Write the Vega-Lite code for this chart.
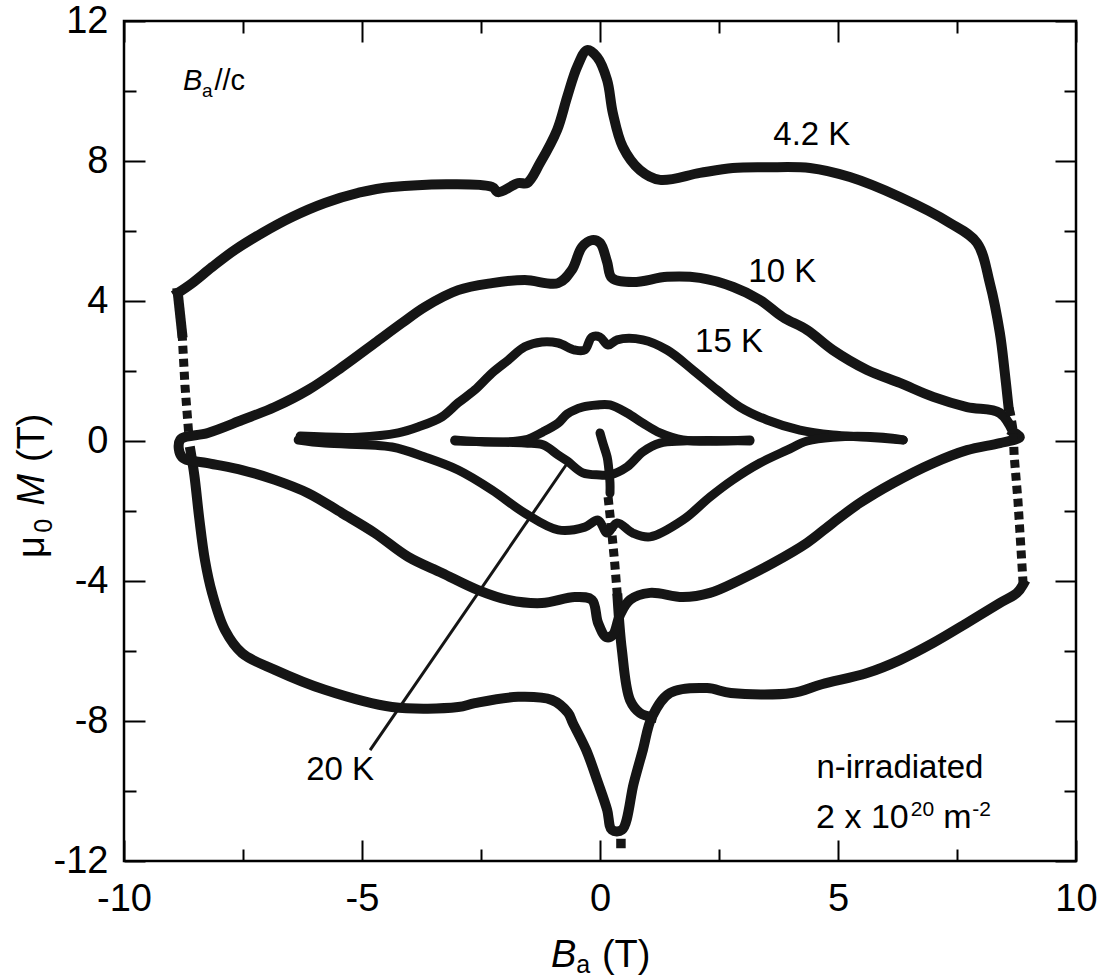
{
  "$schema": "https://vega.github.io/schema/vega-lite/v6.json",
  "width": 952,
  "height": 840,
  "autosize": {"type": "none"},
  "padding": {"left": 124, "top": 21, "right": 24, "bottom": 118},
  "background": "white",
  "config": {
    "view": {"stroke": "black", "strokeWidth": 2.5},
    "axis": {"grid": false, "domain": false, "tickColor": "black", "tickWidth": 2, "labelColor": "black", "labelFont": "Liberation Sans", "labelFontSize": 38},
    "text": {"font": "Liberation Sans", "color": "black"}
  },
  "datasets": {
    "curves": [
      {"seg":"k4a","i":1,"B":8.58,"M":1.0},{"seg":"k4a","i":2,"B":8.5,"M":2.0},{"seg":"k4a","i":3,"B":8.4,"M":3.09},{"seg":"k4a","i":4,"B":8.19,"M":4.51},{"seg":"k4a","i":5,"B":7.92,"M":5.66},{"seg":"k4a","i":6,"B":7.35,"M":6.23},{"seg":"k4a","i":7,"B":6.3,"M":6.97},{"seg":"k4a","i":8,"B":5.25,"M":7.54},{"seg":"k4a","i":9,"B":4.41,"M":7.8},{"seg":"k4a","i":10,"B":3.5,"M":7.82},{"seg":"k4a","i":11,"B":2.79,"M":7.8},{"seg":"k4a","i":12,"B":2.1,"M":7.66},{"seg":"k4a","i":13,"B":1.26,"M":7.46},{"seg":"k4a","i":14,"B":0.84,"M":7.74},{"seg":"k4a","i":15,"B":0.48,"M":8.4},{"seg":"k4a","i":16,"B":0.27,"M":9.37},{"seg":"k4a","i":17,"B":0.15,"M":10.31},{"seg":"k4a","i":18,"B":-0.06,"M":10.97},{"seg":"k4a","i":19,"B":-0.27,"M":11.17},{"seg":"k4a","i":20,"B":-0.48,"M":10.69},{"seg":"k4a","i":21,"B":-0.69,"M":9.83},{"seg":"k4a","i":22,"B":-0.9,"M":8.89},{"seg":"k4a","i":23,"B":-1.26,"M":7.94},{"seg":"k4a","i":24,"B":-1.53,"M":7.37},{"seg":"k4a","i":25,"B":-1.72,"M":7.37},{"seg":"k4a","i":26,"B":-2.14,"M":7.11},{"seg":"k4a","i":27,"B":-2.27,"M":7.26},{"seg":"k4a","i":28,"B":-4.37,"M":7.26},{"seg":"k4a","i":29,"B":-5.08,"M":7.09},{"seg":"k4a","i":30,"B":-5.78,"M":6.8},{"seg":"k4a","i":31,"B":-6.47,"M":6.4},{"seg":"k4a","i":32,"B":-7.1,"M":5.94},{"seg":"k4a","i":33,"B":-7.67,"M":5.46},{"seg":"k4a","i":34,"B":-8.15,"M":4.97},{"seg":"k4a","i":35,"B":-8.57,"M":4.51},{"seg":"k4a","i":36,"B":-8.87,"M":4.23},
      {"seg":"k4c","i":1,"B":-8.87,"M":4.23},{"seg":"k4c","i":2,"B":-8.78,"M":3.09},
      {"seg":"k4L","i":1,"B":-8.78,"M":3.09},{"seg":"k4L","i":2,"B":-8.72,"M":1.6},{"seg":"k4L","i":3,"B":-8.64,"M":0.2},
      {"seg":"k4b","i":1,"B":-8.6,"M":-0.3},{"seg":"k4b","i":2,"B":-8.52,"M":-1.0},{"seg":"k4b","i":3,"B":-8.42,"M":-2.2},{"seg":"k4b","i":4,"B":-8.3,"M":-3.4},{"seg":"k4b","i":5,"B":-8.15,"M":-4.34},{"seg":"k4b","i":6,"B":-7.88,"M":-5.4},{"seg":"k4b","i":7,"B":-7.52,"M":-6.06},{"seg":"k4b","i":8,"B":-6.83,"M":-6.54},{"seg":"k4b","i":9,"B":-5.78,"M":-7.11},{"seg":"k4b","i":10,"B":-4.37,"M":-7.6},{"seg":"k4b","i":11,"B":-2.98,"M":-7.6},{"seg":"k4b","i":12,"B":-2.63,"M":-7.49},{"seg":"k4b","i":13,"B":-1.72,"M":-7.31},{"seg":"k4b","i":14,"B":-1.01,"M":-7.4},{"seg":"k4b","i":15,"B":-0.67,"M":-7.77},{"seg":"k4b","i":16,"B":-0.57,"M":-8.06},{"seg":"k4b","i":17,"B":-0.29,"M":-8.83},{"seg":"k4b","i":18,"B":-0.04,"M":-9.77},{"seg":"k4b","i":19,"B":0.15,"M":-10.54},{"seg":"k4b","i":20,"B":0.25,"M":-11.11},{"seg":"k4b","i":21,"B":0.46,"M":-11.11},{"seg":"k4b","i":22,"B":0.71,"M":-9.77},{"seg":"k4b","i":23,"B":0.9,"M":-8.83},{"seg":"k4b","i":24,"B":1.09,"M":-7.89},{"seg":"k4b","i":25,"B":1.47,"M":-7.2},{"seg":"k4b","i":26,"B":2.25,"M":-7.06},{"seg":"k4b","i":27,"B":2.75,"M":-7.2},{"seg":"k4b","i":28,"B":4.03,"M":-7.2},{"seg":"k4b","i":29,"B":4.66,"M":-6.95},{"seg":"k4b","i":30,"B":5.61,"M":-6.63},{"seg":"k4b","i":31,"B":6.3,"M":-6.26},{"seg":"k4b","i":32,"B":7.0,"M":-5.77},{"seg":"k4b","i":33,"B":7.71,"M":-5.2},{"seg":"k4b","i":34,"B":8.4,"M":-4.63},{"seg":"k4b","i":35,"B":8.76,"M":-4.34},{"seg":"k4b","i":36,"B":8.89,"M":-4.1},
      {"seg":"k4R","i":1,"B":8.89,"M":-4.1},{"seg":"k4R","i":2,"B":8.84,"M":-3.0},{"seg":"k4R","i":3,"B":8.78,"M":-1.7},{"seg":"k4R","i":4,"B":8.7,"M":-0.4},{"seg":"k4R","i":5,"B":8.68,"M":0.3},{"seg":"k4R","i":6,"B":8.62,"M":0.8},{"seg":"k4R","i":7,"B":8.58,"M":1.0},
      {"seg":"k4v","i":1,"B":0.17,"M":-1.6},{"seg":"k4v","i":2,"B":0.24,"M":-2.5},{"seg":"k4v","i":3,"B":0.31,"M":-3.5},{"seg":"k4v","i":4,"B":0.37,"M":-4.5},
      {"seg":"k4w","i":1,"B":0.37,"M":-4.5},{"seg":"k4w","i":2,"B":0.46,"M":-5.97},{"seg":"k4w","i":3,"B":0.63,"M":-7.4},{"seg":"k4w","i":4,"B":0.84,"M":-7.77},{"seg":"k4w","i":5,"B":1.09,"M":-7.89},
      {"seg":"k10","i":1,"B":8.68,"M":0.26},{"seg":"k10","i":2,"B":8.4,"M":0.8},{"seg":"k10","i":3,"B":7.71,"M":0.97},{"seg":"k10","i":4,"B":7.0,"M":1.26},{"seg":"k10","i":5,"B":6.3,"M":1.66},{"seg":"k10","i":6,"B":5.61,"M":2.03},{"seg":"k10","i":7,"B":4.89,"M":2.6},{"seg":"k10","i":8,"B":4.35,"M":3.17},{"seg":"k10","i":9,"B":3.84,"M":3.54},{"seg":"k10","i":10,"B":3.36,"M":4.03},{"seg":"k10","i":11,"B":2.8,"M":4.4},{"seg":"k10","i":12,"B":2.1,"M":4.66},{"seg":"k10","i":13,"B":1.41,"M":4.69},{"seg":"k10","i":14,"B":0.69,"M":4.54},{"seg":"k10","i":15,"B":0.25,"M":4.66},{"seg":"k10","i":16,"B":0.15,"M":5.11},{"seg":"k10","i":17,"B":0.0,"M":5.66},{"seg":"k10","i":18,"B":-0.17,"M":5.74},{"seg":"k10","i":19,"B":-0.38,"M":5.54},{"seg":"k10","i":20,"B":-0.59,"M":4.89},{"seg":"k10","i":21,"B":-0.88,"M":4.51},{"seg":"k10","i":22,"B":-1.58,"M":4.6},{"seg":"k10","i":23,"B":-2.27,"M":4.51},{"seg":"k10","i":24,"B":-2.98,"M":4.31},{"seg":"k10","i":25,"B":-3.68,"M":3.83},{"seg":"k10","i":26,"B":-4.16,"M":3.37},{"seg":"k10","i":27,"B":-4.73,"M":2.8},{"seg":"k10","i":28,"B":-5.42,"M":2.11},{"seg":"k10","i":29,"B":-6.13,"M":1.46},{"seg":"k10","i":30,"B":-6.83,"M":0.97},{"seg":"k10","i":31,"B":-7.52,"M":0.6},{"seg":"k10","i":32,"B":-8.24,"M":0.23},{"seg":"k10","i":33,"B":-8.82,"M":0.03},{"seg":"k10","i":34,"B":-8.78,"M":-0.46},{"seg":"k10","i":35,"B":-8.24,"M":-0.63},{"seg":"k10","i":36,"B":-7.52,"M":-0.83},{"seg":"k10","i":37,"B":-6.83,"M":-1.11},{"seg":"k10","i":38,"B":-6.13,"M":-1.49},{"seg":"k10","i":39,"B":-5.42,"M":-2.06},{"seg":"k10","i":40,"B":-4.73,"M":-2.63},{"seg":"k10","i":41,"B":-4.03,"M":-3.31},{"seg":"k10","i":42,"B":-3.32,"M":-3.77},{"seg":"k10","i":43,"B":-2.56,"M":-4.26},{"seg":"k10","i":44,"B":-1.93,"M":-4.54},{"seg":"k10","i":45,"B":-1.22,"M":-4.63},{"seg":"k10","i":46,"B":-0.53,"M":-4.46},{"seg":"k10","i":47,"B":-0.17,"M":-4.54},{"seg":"k10","i":48,"B":-0.04,"M":-5.2},{"seg":"k10","i":49,"B":0.13,"M":-5.6},{"seg":"k10","i":50,"B":0.27,"M":-5.54},{"seg":"k10","i":51,"B":0.42,"M":-4.97},{"seg":"k10","i":52,"B":0.63,"M":-4.54},{"seg":"k10","i":53,"B":1.05,"M":-4.34},{"seg":"k10","i":54,"B":1.74,"M":-4.46},{"seg":"k10","i":55,"B":2.31,"M":-4.34},{"seg":"k10","i":56,"B":2.94,"M":-3.97},{"seg":"k10","i":57,"B":3.63,"M":-3.49},{"seg":"k10","i":58,"B":4.35,"M":-2.91},{"seg":"k10","i":59,"B":4.89,"M":-2.34},{"seg":"k10","i":60,"B":5.46,"M":-1.77},{"seg":"k10","i":61,"B":6.16,"M":-1.2},{"seg":"k10","i":62,"B":7.0,"M":-0.63},{"seg":"k10","i":63,"B":7.71,"M":-0.26},{"seg":"k10","i":64,"B":8.4,"M":-0.06},{"seg":"k10","i":65,"B":8.82,"M":0.11},{"seg":"k10","i":66,"B":8.68,"M":0.26},
      {"seg":"k15u","i":1,"B":-6.3,"M":0.14},{"seg":"k15u","i":2,"B":-5.08,"M":0.11},{"seg":"k15u","i":3,"B":-4.24,"M":0.23},{"seg":"k15u","i":4,"B":-3.82,"M":0.4},{"seg":"k15u","i":5,"B":-3.32,"M":0.69},{"seg":"k15u","i":6,"B":-2.98,"M":1.09},{"seg":"k15u","i":7,"B":-2.63,"M":1.46},{"seg":"k15u","i":8,"B":-2.27,"M":1.94},{"seg":"k15u","i":9,"B":-1.93,"M":2.31},{"seg":"k15u","i":10,"B":-1.58,"M":2.69},{"seg":"k15u","i":11,"B":-1.22,"M":2.83},{"seg":"k15u","i":12,"B":-0.88,"M":2.8},{"seg":"k15u","i":13,"B":-0.53,"M":2.6},{"seg":"k15u","i":14,"B":-0.32,"M":2.6},{"seg":"k15u","i":15,"B":-0.17,"M":2.97},{"seg":"k15u","i":16,"B":0.0,"M":2.97},{"seg":"k15u","i":17,"B":0.17,"M":2.74},{"seg":"k15u","i":18,"B":0.36,"M":2.89},{"seg":"k15u","i":19,"B":0.9,"M":2.89},{"seg":"k15u","i":20,"B":1.41,"M":2.6},{"seg":"k15u","i":21,"B":1.95,"M":2.03},{"seg":"k15u","i":22,"B":2.46,"M":1.46},{"seg":"k15u","i":23,"B":2.94,"M":0.97},{"seg":"k15u","i":24,"B":3.51,"M":0.6},{"seg":"k15u","i":25,"B":4.2,"M":0.31},{"seg":"k15u","i":26,"B":4.89,"M":0.17},{"seg":"k15u","i":27,"B":5.61,"M":0.11},{"seg":"k15u","i":28,"B":6.37,"M":0.03},
      {"seg":"k15l","i":1,"B":-6.34,"M":0.03},{"seg":"k15l","i":2,"B":-5.78,"M":-0.06},{"seg":"k15l","i":3,"B":-4.37,"M":-0.17},{"seg":"k15l","i":4,"B":-3.68,"M":-0.46},{"seg":"k15l","i":5,"B":-2.98,"M":-0.83},{"seg":"k15l","i":6,"B":-2.27,"M":-1.4},{"seg":"k15l","i":7,"B":-1.58,"M":-2.06},{"seg":"k15l","i":8,"B":-0.88,"M":-2.54},{"seg":"k15l","i":9,"B":-0.32,"M":-2.46},{"seg":"k15l","i":10,"B":-0.04,"M":-2.26},{"seg":"k15l","i":11,"B":0.15,"M":-2.63},{"seg":"k15l","i":12,"B":0.36,"M":-2.34},{"seg":"k15l","i":13,"B":0.69,"M":-2.63},{"seg":"k15l","i":14,"B":1.05,"M":-2.74},{"seg":"k15l","i":15,"B":1.74,"M":-2.26},{"seg":"k15l","i":16,"B":2.31,"M":-1.6},{"seg":"k15l","i":17,"B":2.79,"M":-1.11},{"seg":"k15l","i":18,"B":3.36,"M":-0.63},{"seg":"k15l","i":19,"B":3.93,"M":-0.26},{"seg":"k15l","i":20,"B":4.35,"M":0.0},{"seg":"k15l","i":21,"B":4.89,"M":0.11},{"seg":"k15l","i":22,"B":5.95,"M":0.11},{"seg":"k15l","i":23,"B":6.37,"M":0.03},
      {"seg":"k20u","i":1,"B":-3.05,"M":0.03},{"seg":"k20u","i":2,"B":-2.27,"M":-0.03},{"seg":"k20u","i":3,"B":-1.58,"M":0.03},{"seg":"k20u","i":4,"B":-1.2,"M":0.26},{"seg":"k20u","i":5,"B":-0.88,"M":0.51},{"seg":"k20u","i":6,"B":-0.69,"M":0.77},{"seg":"k20u","i":7,"B":-0.36,"M":0.97},{"seg":"k20u","i":8,"B":-0.06,"M":1.03},{"seg":"k20u","i":9,"B":0.21,"M":1.03},{"seg":"k20u","i":10,"B":0.57,"M":0.8},{"seg":"k20u","i":11,"B":0.9,"M":0.51},{"seg":"k20u","i":12,"B":1.26,"M":0.23},{"seg":"k20u","i":13,"B":1.74,"M":0.03},{"seg":"k20u","i":14,"B":3.15,"M":0.03},
      {"seg":"k20l","i":1,"B":-3.05,"M":0.0},{"seg":"k20l","i":2,"B":-1.58,"M":-0.06},{"seg":"k20l","i":3,"B":-1.2,"M":-0.11},{"seg":"k20l","i":4,"B":-0.88,"M":-0.4},{"seg":"k20l","i":5,"B":-0.69,"M":-0.57},{"seg":"k20l","i":6,"B":-0.36,"M":-0.91},{"seg":"k20l","i":7,"B":0.0,"M":-0.97},{"seg":"k20l","i":8,"B":0.21,"M":-0.97},{"seg":"k20l","i":9,"B":0.57,"M":-0.74},{"seg":"k20l","i":10,"B":0.9,"M":-0.31},{"seg":"k20l","i":11,"B":1.26,"M":-0.06},{"seg":"k20l","i":12,"B":1.74,"M":0.0},{"seg":"k20l","i":13,"B":3.15,"M":0.0},
      {"seg":"t20v","i":1,"B":0.0,"M":0.23},{"seg":"t20v","i":2,"B":0.06,"M":-0.06},{"seg":"t20v","i":3,"B":0.15,"M":-0.46},{"seg":"t20v","i":4,"B":0.18,"M":-0.74},{"seg":"t20v","i":5,"B":0.21,"M":-1.2},{"seg":"t20v","i":6,"B":0.21,"M":-1.49},
      {"seg":"k4pt","i":1,"B":0.44,"M":-11.5}
    ],
    "notes": [
      {"g":"c","t":"4.2 K","B":4.45,"M":8.46},
      {"g":"c","t":"10 K","B":3.83,"M":4.54},
      {"g":"c","t":"15 K","B":2.71,"M":2.54},
      {"g":"c","t":"20 K","B":-5.46,"M":-9.69},
      {"g":"c","t":"n-irradiated","B":6.3,"M":-9.63},
      {"g":"l","t":"2 x 10","B":4.54,"M":-11.06},
      {"g":"l","t":"m","B":7.21,"M":-11.06},
      {"g":"s","t":"20","B":6.53,"M":-10.72},
      {"g":"s","t":"-2","B":7.82,"M":-10.72},
      {"g":"bi","t":"B","B":-8.76,"M":10.03},
      {"g":"bs","t":"a","B":-8.36,"M":9.83},
      {"g":"bn","t":"//c","B":-8.1,"M":10.03},
      {"g":"xi","t":"B","B":-1.03,"M":-15.03},
      {"g":"xs","t":"a","B":-0.5,"M":-15.2},
      {"g":"xn","t":"(T)","B":0.04,"M":-15.03},
      {"g":"yn","t":"μ","B":-11.68,"M":-3.34},
      {"g":"ys","t":"0","B":-11.51,"M":-2.62},
      {"g":"yi","t":"M","B":-11.68,"M":-1.85},
      {"g":"yn","t":"(T)","B":-11.68,"M":-0.6}
    ],
    "leader": [{"B":-4.83,"M":-8.83,"B2":-0.67,"M2":-0.6}],
    "origin": [{"B":0,"M":0}]
  },
  "resolve": {"axis": {"x": "independent", "y": "independent"}},
  "layer": [
    {
      "data": {"name": "curves"},
      "transform": [{"filter": {"field": "seg", "oneOf": ["k4a", "k4b", "k10", "k4w"]}}],
      "mark": {"type": "line", "strokeWidth": 10, "color": "#151515", "strokeCap": "square", "interpolate": "catmull-rom"},
      "encoding": {
        "x": {"field": "B", "type": "quantitative", "scale": {"domain": [-10, 10], "nice": false, "zero": false},
              "axis": {"orient": "bottom", "values": [-10, -5, 0, 5, 10], "ticks": false, "tickSize": 0, "labelPadding": 19, "labelFlush": false, "labelOverlap": false, "labelExpr": "'' + datum.value", "title": null}},
        "y": {"field": "M", "type": "quantitative", "scale": {"domain": [-12, 12], "nice": false, "zero": false},
              "axis": {"orient": "left", "values": [-12, -8, -4, 0, 4, 8, 12], "ticks": false, "tickSize": 0, "labelPadding": 16, "labelFlush": false, "labelOverlap": false, "labelExpr": "'' + datum.value", "title": null}},
        "detail": {"field": "seg"},
        "order": {"field": "i", "type": "quantitative"}
      }
    },
    {
      "data": {"name": "curves"},
      "transform": [{"filter": {"field": "seg", "equal": "k4c"}}],
      "mark": {"type": "line", "strokeWidth": 10, "color": "#151515", "strokeCap": "square"},
      "encoding": {
        "x": {"field": "B", "type": "quantitative", "axis": null},
        "y": {"field": "M", "type": "quantitative", "axis": null},
        "order": {"field": "i", "type": "quantitative"}
      }
    },
    {
      "data": {"name": "curves"},
      "transform": [{"filter": {"field": "seg", "oneOf": ["k4L", "k4R", "k4v"]}}],
      "mark": {"type": "line", "strokeWidth": 9, "color": "#151515", "strokeDash": [8, 5]},
      "encoding": {
        "x": {"field": "B", "type": "quantitative", "axis": null},
        "y": {"field": "M", "type": "quantitative", "axis": null},
        "detail": {"field": "seg"},
        "order": {"field": "i", "type": "quantitative"}
      }
    },
    {
      "data": {"name": "curves"},
      "transform": [{"filter": {"field": "seg", "oneOf": ["k15u", "k15l", "k20u", "k20l", "t20v"]}}],
      "mark": {"type": "line", "strokeWidth": 9, "color": "#151515", "strokeCap": "round", "strokeJoin": "round", "interpolate": "catmull-rom"},
      "encoding": {
        "x": {"field": "B", "type": "quantitative", "axis": null},
        "y": {"field": "M", "type": "quantitative", "axis": null},
        "detail": {"field": "seg"},
        "order": {"field": "i", "type": "quantitative"}
      }
    },
    {
      "data": {"name": "curves"},
      "transform": [{"filter": {"field": "seg", "equal": "k4pt"}}],
      "mark": {"type": "square", "size": 90, "filled": true, "color": "#151515", "opacity": 1},
      "encoding": {
        "x": {"field": "B", "type": "quantitative", "axis": null},
        "y": {"field": "M", "type": "quantitative", "axis": null}
      }
    },
    {
      "data": {"name": "leader"},
      "mark": {"type": "rule", "strokeWidth": 3, "color": "#151515"},
      "encoding": {
        "x": {"field": "B", "type": "quantitative", "axis": null},
        "y": {"field": "M", "type": "quantitative", "axis": null},
        "x2": {"field": "B2"},
        "y2": {"field": "M2"}
      }
    },
    {
      "data": {"name": "notes"},
      "transform": [{"filter": {"field": "g", "equal": "c"}}],
      "mark": {"type": "text", "fontSize": 33, "align": "center", "baseline": "alphabetic"},
      "encoding": {"x": {"field": "B", "type": "quantitative", "axis": null}, "y": {"field": "M", "type": "quantitative", "axis": null}, "text": {"field": "t"}}
    },
    {
      "data": {"name": "notes"},
      "transform": [{"filter": {"field": "g", "equal": "l"}}],
      "mark": {"type": "text", "fontSize": 34, "align": "left", "baseline": "alphabetic"},
      "encoding": {"x": {"field": "B", "type": "quantitative", "axis": null}, "y": {"field": "M", "type": "quantitative", "axis": null}, "text": {"field": "t"}}
    },
    {
      "data": {"name": "notes"},
      "transform": [{"filter": {"field": "g", "equal": "s"}}],
      "mark": {"type": "text", "fontSize": 21, "align": "left", "baseline": "alphabetic"},
      "encoding": {"x": {"field": "B", "type": "quantitative", "axis": null}, "y": {"field": "M", "type": "quantitative", "axis": null}, "text": {"field": "t"}}
    },
    {
      "data": {"name": "notes"},
      "transform": [{"filter": {"field": "g", "equal": "bi"}}],
      "mark": {"type": "text", "fontSize": 29, "fontStyle": "italic", "align": "left", "baseline": "alphabetic"},
      "encoding": {"x": {"field": "B", "type": "quantitative", "axis": null}, "y": {"field": "M", "type": "quantitative", "axis": null}, "text": {"field": "t"}}
    },
    {
      "data": {"name": "notes"},
      "transform": [{"filter": {"field": "g", "equal": "bs"}}],
      "mark": {"type": "text", "fontSize": 19, "align": "left", "baseline": "alphabetic"},
      "encoding": {"x": {"field": "B", "type": "quantitative", "axis": null}, "y": {"field": "M", "type": "quantitative", "axis": null}, "text": {"field": "t"}}
    },
    {
      "data": {"name": "notes"},
      "transform": [{"filter": {"field": "g", "equal": "bn"}}],
      "mark": {"type": "text", "fontSize": 29, "align": "left", "baseline": "alphabetic"},
      "encoding": {"x": {"field": "B", "type": "quantitative", "axis": null}, "y": {"field": "M", "type": "quantitative", "axis": null}, "text": {"field": "t"}}
    },
    {
      "data": {"name": "notes"},
      "transform": [{"filter": {"field": "g", "equal": "xi"}}],
      "mark": {"type": "text", "fontSize": 38, "fontStyle": "italic", "align": "left", "baseline": "alphabetic"},
      "encoding": {"x": {"field": "B", "type": "quantitative", "axis": null}, "y": {"field": "M", "type": "quantitative", "axis": null}, "text": {"field": "t"}}
    },
    {
      "data": {"name": "notes"},
      "transform": [{"filter": {"field": "g", "equal": "xs"}}],
      "mark": {"type": "text", "fontSize": 25, "align": "left", "baseline": "alphabetic"},
      "encoding": {"x": {"field": "B", "type": "quantitative", "axis": null}, "y": {"field": "M", "type": "quantitative", "axis": null}, "text": {"field": "t"}}
    },
    {
      "data": {"name": "notes"},
      "transform": [{"filter": {"field": "g", "equal": "xn"}}],
      "mark": {"type": "text", "fontSize": 38, "align": "left", "baseline": "alphabetic"},
      "encoding": {"x": {"field": "B", "type": "quantitative", "axis": null}, "y": {"field": "M", "type": "quantitative", "axis": null}, "text": {"field": "t"}}
    },
    {
      "data": {"name": "notes"},
      "transform": [{"filter": {"field": "g", "equal": "yn"}}],
      "mark": {"type": "text", "fontSize": 38, "angle": 270, "align": "left", "baseline": "alphabetic"},
      "encoding": {"x": {"field": "B", "type": "quantitative", "axis": null}, "y": {"field": "M", "type": "quantitative", "axis": null}, "text": {"field": "t"}}
    },
    {
      "data": {"name": "notes"},
      "transform": [{"filter": {"field": "g", "equal": "yi"}}],
      "mark": {"type": "text", "fontSize": 38, "fontStyle": "italic", "angle": 270, "align": "left", "baseline": "alphabetic"},
      "encoding": {"x": {"field": "B", "type": "quantitative", "axis": null}, "y": {"field": "M", "type": "quantitative", "axis": null}, "text": {"field": "t"}}
    },
    {
      "data": {"name": "notes"},
      "transform": [{"filter": {"field": "g", "equal": "ys"}}],
      "mark": {"type": "text", "fontSize": 25, "angle": 270, "align": "left", "baseline": "alphabetic"},
      "encoding": {"x": {"field": "B", "type": "quantitative", "axis": null}, "y": {"field": "M", "type": "quantitative", "axis": null}, "text": {"field": "t"}}
    },
    {
      "data": {"name": "origin"},
      "mark": {"type": "point", "opacity": 0},
      "encoding": {
        "x": {"field": "B", "type": "quantitative", "axis": {"orient": "bottom", "values": [-10, -5, 0, 5, 10], "labels": false, "tickSize": 21, "offset": -21, "title": null}},
        "y": {"field": "M", "type": "quantitative", "axis": {"orient": "left", "values": [-12, -8, -4, 0, 4, 8, 12], "labels": false, "tickSize": 21, "offset": -21, "title": null}}
      }
    },
    {
      "data": {"name": "origin"},
      "mark": {"type": "point", "opacity": 0},
      "encoding": {
        "x": {"field": "B", "type": "quantitative", "axis": {"orient": "bottom", "values": [-7.5, -2.5, 2.5, 7.5], "labels": false, "tickSize": 12, "offset": -12, "title": null}},
        "y": {"field": "M", "type": "quantitative", "axis": {"orient": "left", "values": [-10, -6, -2, 2, 6, 10], "labels": false, "tickSize": 12, "offset": -12, "title": null}}
      }
    },
    {
      "data": {"name": "origin"},
      "mark": {"type": "point", "opacity": 0},
      "encoding": {
        "x": {"field": "B", "type": "quantitative", "axis": {"orient": "top", "values": [-10, -5, 0, 5, 10], "labels": false, "tickSize": 21, "offset": -21, "title": null}},
        "y": {"field": "M", "type": "quantitative", "axis": {"orient": "right", "values": [-12, -8, -4, 0, 4, 8, 12], "labels": false, "tickSize": 21, "offset": -21, "title": null}}
      }
    },
    {
      "data": {"name": "origin"},
      "mark": {"type": "point", "opacity": 0},
      "encoding": {
        "x": {"field": "B", "type": "quantitative", "axis": {"orient": "top", "values": [-7.5, -2.5, 2.5, 7.5], "labels": false, "tickSize": 12, "offset": -12, "title": null}},
        "y": {"field": "M", "type": "quantitative", "axis": {"orient": "right", "values": [-10, -6, -2, 2, 6, 10], "labels": false, "tickSize": 12, "offset": -12, "title": null}}
      }
    }
  ]
}
